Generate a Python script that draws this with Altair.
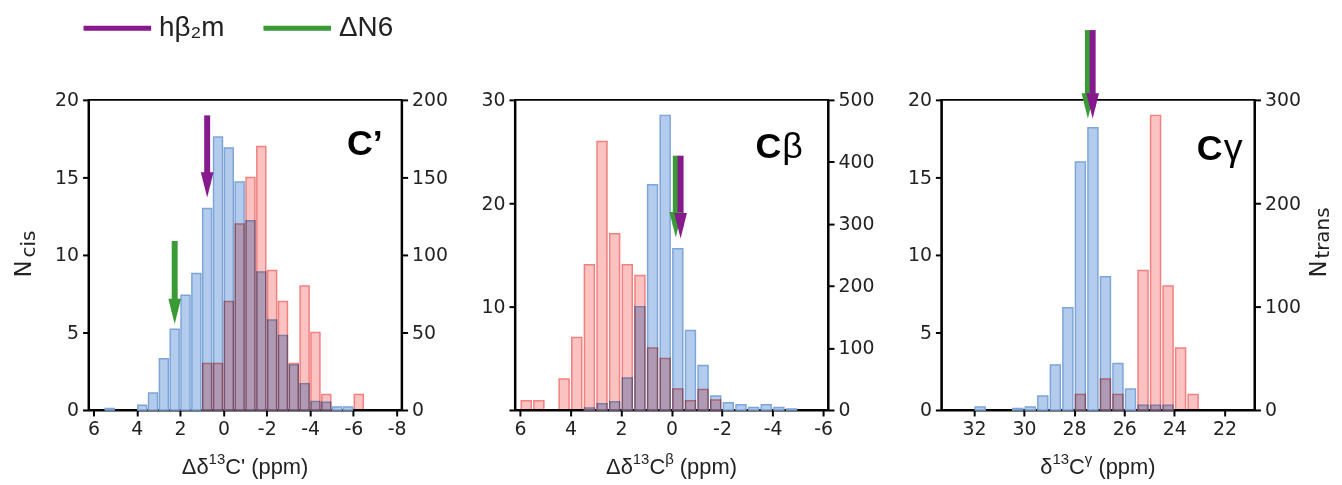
import altair as alt
import pandas as pd

FONT = "DejaVu Sans"
ARIAL = "Liberation Sans"

# ---------------- data ----------------
# C' panel (bin centres in ppm, 0.5 ppm bins)
cp_centers = [5.25, 3.75, 3.25, 2.75, 2.25, 1.75, 1.25, 0.75, 0.25, -0.25, -0.75,
              -1.25, -1.75, -2.25, -2.75, -3.25, -3.75, -4.25, -4.75, -5.25, -5.75, -6.25]
cp_cis = [0.1, 0.3, 1.1, 3.3, 5.2, 7.4, 8.8, 13.0, 17.6, 16.9, 14.7,
          12.2, 8.9, 5.8, 4.8, 2.9, 1.7, 0.55, 0.5, 0.2, 0.2, 0]
cp_trans = [0, 0, 0, 0, 0, 0, 0, 30, 30, 70, 120,
            150, 170, 90, 70, 30, 80, 50, 10, 0, 0, 10]

# Cbeta panel
cb_centers = [5.75, 5.25, 4.25, 3.75, 3.25, 2.75, 2.25, 1.75, 1.25, 0.75, 0.25,
              -0.25, -0.75, -1.25, -1.75, -2.25, -2.75, -3.25, -3.75, -4.25, -4.75]
cb_cis = [0, 0, 0, 0, 0.2, 0.6, 0.8, 3.1, 10.0, 21.8, 28.5,
          15.6, 7.7, 4.3, 1.35, 0.7, 0.5, 0.25, 0.5, 0.25, 0.1]
cb_trans = [15, 15, 50, 117, 234, 433, 284, 234, 217, 100, 83,
            34, 15, 33, 16, 0, 0, 0, 0, 0, 0]

# Cgamma panel
cg_centers = [31.75, 30.25, 29.75, 29.25, 28.75, 28.25, 27.75, 27.25,
              26.75, 26.25, 25.75, 25.25, 24.75, 24.25, 23.75, 23.25]
cg_cis = [0.2, 0.1, 0.2, 0.9, 2.9, 6.6, 16.0, 18.2,
          8.6, 3.0, 1.35, 0.3, 0.3, 0.3, 0, 0]
cg_trans = [0, 0, 0, 0, 0, 0, 15, 0,
            30, 15, 0, 135, 285, 120, 60, 15]

# arrows: name, x position, top (left-axis units), tip
series_names = ["hβ₂m", "ΔN6"]
series_colors = ["#86198c", "#3a9a36"]

cp_arrow_names = ["hβ₂m", "ΔN6"]
cp_arrow_x = [0.75, 2.25]
cp_arrow_top = [19.0, 10.9]
cp_arrow_tip = [13.7, 5.55]

cb_arrow_names = ["ΔN6", "hβ₂m"]
cb_arrow_x = [-0.17, -0.36]
cb_arrow_top = [24.6, 24.6]
cb_arrow_tip = [16.7, 16.6]

cg_arrow_names = ["ΔN6", "hβ₂m"]
cg_arrow_x = [27.45, 27.26]
cg_arrow_top = [24.5, 24.5]
cg_arrow_tip = [18.8, 18.8]

# axis title pieces: (text, is_superscript)
cp_title = [("Δδ", False), ("13", True), ("C'", False), (" (ppm)", False)]
cb_title = [("Δδ", False), ("13", True), ("C", False), ("β", True), (" (ppm)", False)]
cg_title = [("δ", False), ("13", True), ("C", False), ("γ", True), (" (ppm)", False)]

BLUE_FILL, BLUE_STROKE = "#b3cbec", "#7ea5d8"
RED_FILL, RED_STROKE = "#fbc2c2", "#f2807f"
TXT = "#222222"

W, H = 315, 312
HEAD = "M-0.5,-1L0.5,-1L0,1Z"

# approximate Liberation Sans advance widths (em) used to lay out title pieces
ADV = {"Δ": 0.668, "δ": 0.556, "C": 0.722, "'": 0.191, " ": 0.278, "(": 0.333, ")": 0.333,
       "p": 0.556, "m": 0.833, "1": 0.556, "3": 0.556, "β": 0.575, "γ": 0.5}
T_MAIN, T_SUP = 22, 15


def txt(s, x, y, size, font=FONT, **kw):
    return alt.Chart(pd.DataFrame({"t": [s]})).mark_text(
        font=font, fontSize=size, color=kw.pop("color", TXT), **kw
    ).encode(text="t:N", x=alt.value(x), y=alt.value(y))


def title_layers(pieces):
    widths = [sum(ADV.get(ch, 0.55) for ch in s) * (T_SUP if sup else T_MAIN)
              for s, sup in pieces]
    x = W / 2 - sum(widths) / 2
    base = H + 64
    out = []
    for (s, sup), w in zip(pieces, widths):
        lead = len(s) - len(s.lstrip(" "))
        size = T_SUP if sup else T_MAIN
        out.append(txt(s.strip(" "), x + lead * ADV[" "] * size, base - 10 if sup else base,
                       size, font=ARIAL, align="left", baseline="alphabetic"))
        x += w
    return out


def panel(centers, cis, trans, anames, ax, atop, atip, xdom, xticks, ldom, lticks,
          rdom, rticks, bar_w, title, extras, left_label_expr=None):
    df = pd.DataFrame({"x": centers, "cis": cis, "trans": trans})
    adf = pd.DataFrame({"name": anames, "x": ax, "top": atop, "tip": atip})
    xenc = alt.X("x:Q",
                 scale=alt.Scale(domain=xdom, reverse=True, nice=False, zero=False),
                 axis=alt.Axis(values=xticks, title=None, labelExpr="'' + datum.value"))
    lexpr = left_label_expr or "'' + datum.value"
    blue = alt.Chart(df).transform_filter("datum.cis > 0").mark_bar(
        width=bar_w, fill=BLUE_FILL, stroke=BLUE_STROKE, strokeWidth=1.5
    ).encode(
        x=xenc,
        y=alt.Y("cis:Q", scale=alt.Scale(domain=ldom, nice=False),
                axis=alt.Axis(orient="left", values=lticks, title=None, labelExpr=lexpr)),
    )
    red = alt.Chart(df).transform_filter("datum.trans > 0").mark_bar(
        width=bar_w, fill=RED_FILL, stroke=RED_STROKE, strokeWidth=1.5, blend="multiply"
    ).encode(
        x=xenc,
        y=alt.Y("trans:Q", scale=alt.Scale(domain=rdom, nice=False),
                axis=alt.Axis(orient="right", values=rticks, title=None,
                              labelExpr="'' + datum.value")),
    )
    cscale = alt.Scale(domain=series_names, range=series_colors)
    shaft = alt.Chart(adf).mark_rule(strokeWidth=6, y2Offset=-12, strokeCap="butt").encode(
        x=xenc,
        y=alt.Y("top:Q", scale=alt.Scale(domain=ldom, nice=False), axis=None),
        y2="tip:Q",
        color=alt.Color("name:N", scale=cscale, legend=None),
    )
    head = alt.Chart(adf).mark_point(shape=HEAD, size=650, filled=True, opacity=1,
                                     yOffset=-12.7, strokeWidth=0).encode(
        x=xenc,
        y=alt.Y("tip:Q", scale=alt.Scale(domain=ldom, nice=False), axis=None),
        color=alt.Color("name:N", scale=cscale, legend=None),
    )
    return alt.layer(blue, red, shaft, head, *title_layers(title), *extras).resolve_scale(
        y="independent").properties(width=W, height=H)


legend_items = []
legend_x = [-5, 176]
for name, col, lx in zip(series_names, series_colors, legend_x):
    legend_items.append(
        alt.Chart(pd.DataFrame({"n": [name]})).mark_rule(color=col, strokeWidth=5).encode(
            x=alt.value(lx), x2=alt.value(lx + 68), y=alt.value(-72))
    )
    legend_items.append(txt(name, lx + 76, -72, 28, font=ARIAL, align="left", baseline="middle"))

p1_extras = legend_items + [
    txt("C’", 296, 55, 36, font=ARIAL, align="right", baseline="alphabetic",
        fontWeight="bold", color="black"),
    txt("N", -65, 170, 23, angle=270, align="center", baseline="middle"),
    txt("cis", -60, 145, 20, angle=270, align="center", baseline="middle"),
]
p2_extras = [
    txt("C", 268, 58, 36, font=ARIAL, align="right", baseline="alphabetic",
        fontWeight="bold", color="black"),
    txt("β", 269, 58, 36, font=ARIAL, align="left", baseline="alphabetic", color="black"),
]
p3_extras = [
    txt("C", 283, 60, 36, font=ARIAL, align="right", baseline="alphabetic",
        fontWeight="bold", color="black"),
    txt("γ", 284, 60, 38, font=ARIAL, align="left", baseline="alphabetic", color="black"),
    txt("N", 380, 170, 23, angle=270, align="center", baseline="middle"),
    txt("trans", 384, 134, 20, angle=270, align="center", baseline="middle"),
]

p1 = panel(cp_centers, cp_cis, cp_trans, cp_arrow_names, cp_arrow_x, cp_arrow_top, cp_arrow_tip,
           [-8, 6], [6, 4, 2, 0, -2, -4, -6, -8], [0, 20], [0, 5, 10, 15, 20],
           [0, 200], [0, 50, 100, 150, 200], 9, cp_title, p1_extras)
p2 = panel(cb_centers, cb_cis, cb_trans, cb_arrow_names, cb_arrow_x, cb_arrow_top, cb_arrow_tip,
           [-6, 6], [6, 4, 2, 0, -2, -4, -6], [0, 30], [0, 10, 20, 30],
           [0, 500], [0, 100, 200, 300, 400, 500], 10, cb_title, p2_extras,
           left_label_expr="datum.value == 0 ? '' : '' + datum.value")
p3 = panel(cg_centers, cg_cis, cg_trans, cg_arrow_names, cg_arrow_x, cg_arrow_top, cg_arrow_tip,
           [21, 33.1], [32, 30, 28, 26, 24, 22], [0, 20], [0, 5, 10, 15, 20],
           [0, 300], [0, 100, 200, 300], 10, cg_title, p3_extras)

chart = alt.hconcat(p1, p2, p3, spacing=114, bounds="flush").properties(
    padding={"left": 4, "top": 4, "right": 0, "bottom": 0}
).configure_view(stroke="black", strokeWidth=2).configure_axis(
    domainColor="black", domainWidth=2, tickColor="black", tickWidth=2, tickSize=6,
    labelFont=FONT, labelFontSize=19, labelColor=TXT, labelPadding=4, grid=False,
)

chart.save("out.html", embed_options={"renderer": "svg", "actions": False})
